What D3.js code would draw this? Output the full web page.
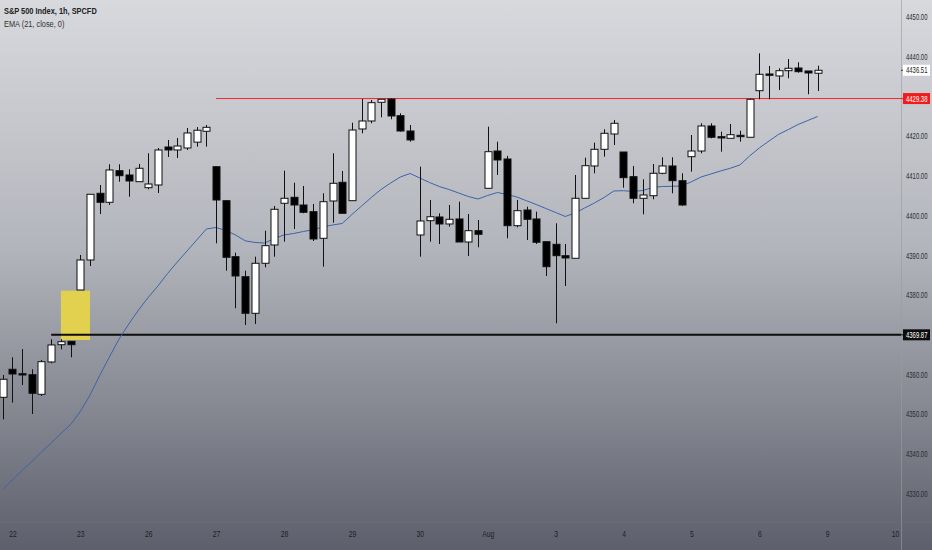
<!DOCTYPE html>
<html><head><meta charset="utf-8">
<script src="https://cdn.jsdelivr.net/npm/d3@7"></script>
<style>
html,body{margin:0;padding:0;background:#c9cbd1;}
svg{display:block;}
text{font-family:"Liberation Sans",Arial,sans-serif;}
</style></head>
<body>
<svg id="chart" width="932" height="550"></svg>
<script>
// ---- data ----
const dayLabels = ["22","23","26","27","28","29","30","Aug","3","4","5","6","9","10"];
const dayStartIndex = [1,8,15,22,29,36,43,50,57,64,71,78,85,92];
const priceTicks = [4330,4340,4350,4360,4380,4390,4400,4410,4420,4440,4450];
const openV = [4354.13,4361.19,4360.08,4359.83,4354.89,4363.03,4367.38,4368.24,4381.16,4388.72,
 4405.52,4403.25,4411.21,4410.13,4408.44,4406.93,4407.61,4417.18,4416.43,4416.93,
 4418.40,4421.14,4412.22,4403.66,4389.55,4384.51,4375.29,4387.89,4392.50,4403.00,
 4404.51,4402.57,4400.89,4394.18,4403.58,4408.29,4403.66,4421.72,4423.73,4428.44,
 4429.27,4425.07,4421.21,4395.02,4398.62,4399.55,4397.79,4399.05,4393.25,4396.10,
 4406.78,4416.17,4414.16,4397.36,4401.31,4399.05,4393.33,4392.67,4389.80,4389.15,
 4404.26,4412.40,4416.60,4420.46,4415.92,4409.70,4404.26,4404.91,4410.56,4412.40,
 4408.69,4414.74,4416.17,4422.47,4419.78,4419.37,4420.13,4419.63,4431.36,4435.57,
 4435.07,4436.40,4437.08,4436.33,4435.75];
const highV = [4359.75,4364.21,4366.30,4361.19,4363.53,4368.74,4368.74,4368.24,4389.98,4405.27,
 4407.61,4412.82,4412.82,4411.56,4412.90,4415.60,4416.93,4418.95,4419.45,4421.97,
 4422.20,4422.72,4412.22,4403.66,4390.56,4386.02,4389.55,4396.10,4402.32,4411.21,
 4408.19,4407.36,4402.82,4405.52,4415.60,4411.14,4423.30,4429.27,4429.02,4429.20,
 4429.38,4425.67,4422.72,4412.22,4403.83,4400.48,4402.57,4403.40,4400.31,4398.79,
 4422.30,4418.52,4414.92,4403.83,4402.14,4400.89,4393.33,4397.96,4392.75,4410.13,
 4414.49,4418.27,4421.64,4423.98,4415.92,4412.40,4409.05,4412.90,4414.59,4414.59,
 4410.56,4420.20,4423.15,4423.15,4421.04,4422.98,4421.29,4429.38,4440.78,4437.59,
 4437.01,4439.35,4438.52,4436.33,4437.66];
const lowV = [4348.59,4352.77,4357.23,4349.93,4354.46,4362.70,4366.22,4364.21,4381.16,4387.21,
 4400.31,4402.57,4408.44,4404.66,4408.44,4406.53,4405.60,4414.66,4414.41,4416.43,
 4417.26,4417.26,4392.93,4386.02,4376.55,4372.35,4372.60,4386.88,4389.55,4393.33,
 4396.53,4400.48,4393.50,4387.03,4398.11,4400.48,4403.66,4420.63,4423.15,4424.66,
 4424.16,4421.04,4418.52,4389.55,4393.33,4392.75,4397.11,4393.25,4389.73,4391.92,
 4406.78,4410.13,4394.18,4396.96,4393.76,4392.75,4384.69,4372.77,4382.17,4389.15,
 4404.26,4410.56,4414.74,4417.69,4406.93,4403.00,4400.23,4404.01,4410.31,4405.52,
 4402.32,4410.96,4415.60,4419.37,4416.00,4419.37,4418.52,4419.63,4429.20,4429.20,
 4431.54,4434.49,4435.90,4430.46,4431.29];
const closeV = [4358.67,4360.00,4359.75,4355.14,4363.10,4367.31,4368.14,4367.38,4388.72,4405.27,
 4403.25,4411.39,4409.95,4408.62,4411.82,4407.86,4416.43,4416.43,4417.43,4420.71,
 4421.40,4422.14,4403.83,4389.40,4384.69,4375.29,4387.89,4392.32,4401.49,4404.26,
 4402.57,4400.73,4394.01,4403.40,4408.04,4400.48,4421.46,4423.73,4428.34,4429.20,
 4424.99,4421.21,4418.95,4398.54,4399.62,4397.79,4398.97,4393.25,4396.10,4395.19,
 4416.00,4413.91,4397.36,4401.14,4398.97,4393.18,4387.03,4389.80,4389.22,4404.26,
 4412.47,4416.60,4420.63,4423.15,4409.45,4404.26,4405.09,4410.56,4412.40,4408.69,
 4402.57,4416.17,4422.47,4419.63,4419.45,4420.28,4419.78,4429.20,4435.49,4435.24,
 4436.40,4437.01,4436.15,4435.82,4436.51];
const emaV = [4330.91,4333.30,4335.70,4337.96,4340.36,4342.62,4345.02,4347.28,4350.56,4354.71,
 4359.63,4364.29,4368.82,4372.60,4376.12,4379.27,4382.17,4385.32,4388.21,4390.99,
 4393.76,4396.53,4396.90,4396.15,4395.02,4393.55,4393.13,4393.00,4394.13,4395.02,
 4395.39,4395.90,4396.33,4397.03,4397.53,4397.91,4400.18,4402.32,4404.46,4406.48,
 4408.11,4409.63,4410.51,4409.37,4408.24,4407.23,4406.48,4405.60,4404.71,4404.08,
 4404.97,4405.72,4405.22,4404.59,4403.63,4402.70,4401.69,4400.68,4399.68,4400.56,
 4401.82,4403.08,4404.46,4406.10,4406.17,4405.97,4406.23,4406.98,4407.23,4407.28,
 4407.36,4408.42,4409.63,4410.38,4411.14,4411.82,4412.65,4414.92,4416.93,4418.69,
 4420.38,4421.59,4422.85,4423.86,4424.86];
const redLevel = 4429.38;
const blackLevel = 4369.87;
const lastPrice = 4436.51;
const zoneTop = 4380.99, zoneBottom = 4368.57, zoneFrom = 6, zoneTo = 9;
const redFrom = 22, blackFrom = 5;
const title1 = "S&P 500 Index, 1h, SPCFD";
const title2 = "EMA (21, close, 0)";

// ---- layout ----
const W = 932, H = 550, plotR = 901, plotB = 522;
const svg = d3.select("#chart");
const defs = svg.append("defs");
const grad = defs.append("linearGradient").attr("id","bg").attr("x1",0).attr("y1",0).attr("x2",0).attr("y2",1);
grad.append("stop").attr("offset","0%").attr("stop-color","#d7d9dd");
grad.append("stop").attr("offset","45%").attr("stop-color","#b3b5bc");
grad.append("stop").attr("offset","100%").attr("stop-color","#5d5f6c");
svg.append("rect").attr("width",W).attr("height",H).attr("fill","url(#bg)");
defs.append("clipPath").attr("id","plot").append("rect").attr("x",0).attr("y",0).attr("width",plotR).attr("height",plotB);

const x = d3.scaleLinear().domain([0,84]).range([2.7,817.5]);
const y = d3.scaleLinear().domain([4330,4450]).range([493.1,16.7]);
const bw = 7;
const SX = 0.66; // horizontal condensing of axis text

svg.append("line").attr("x1",plotR+0.5).attr("x2",plotR+0.5).attr("y1",0).attr("y2",H).attr("stroke","#9a9ca4").attr("stroke-width",1).attr("opacity",0.6);

const g = svg.append("g").attr("clip-path","url(#plot)");

// yellow zone
g.append("rect").attr("x",x(zoneFrom)).attr("width",x(zoneTo)-x(zoneFrom))
 .attr("y",y(zoneTop)).attr("height",y(zoneBottom)-y(zoneTop)).attr("fill","#e2d04f");

// horizontal levels
g.append("line").attr("x1",x(redFrom)).attr("x2",plotR).attr("y1",y(redLevel)).attr("y2",y(redLevel))
 .attr("stroke","#f0262b").attr("stroke-width",1);
g.append("line").attr("x1",x(blackFrom)).attr("x2",plotR).attr("y1",y(blackLevel)).attr("y2",y(blackLevel))
 .attr("stroke","#0d0d0d").attr("stroke-width",2);

// EMA
const line = d3.line().x((d,i)=>x(i)).y(d=>y(d));
g.append("path").datum(emaV).attr("d",line).attr("fill","none").attr("stroke","#3f63a8").attr("stroke-width",1);

// candles
const idx = d3.range(openV.length);
const c = g.selectAll("g.c").data(idx).join("g").attr("class","c");
c.append("line").attr("x1",i=>Math.round(x(i))+0.5).attr("x2",i=>Math.round(x(i))+0.5)
 .attr("y1",i=>y(highV[i])).attr("y2",i=>y(lowV[i])).attr("stroke","#111").attr("stroke-width",1);
c.append("rect").attr("x",i=>Math.round(x(i))-bw/2+0.5)
 .attr("y",i=>y(Math.max(openV[i],closeV[i])))
 .attr("width",bw)
 .attr("height",i=>Math.max(1,Math.abs(y(openV[i])-y(closeV[i]))))
 .attr("fill",i=>closeV[i]>=openV[i]?"#ffffff":"#000000")
 .attr("stroke","#111").attr("stroke-width",1);

// titles
svg.append("g").attr("transform","translate(4,14) scale(0.78,1)")
 .append("text").attr("font-size",9.5).attr("font-weight","bold").attr("fill","#222").text(title1);
svg.append("g").attr("transform","translate(4,27) scale(0.78,1)")
 .append("text").attr("font-size",9.5).attr("fill","#333").text(title2);

// price axis
const yAxis = d3.axisRight(y).tickValues(priceTicks).tickSize(0).tickPadding(0).tickFormat(d=>d.toFixed(2));
const ya = svg.append("g").attr("transform",`translate(${plotR+5},0)`).call(yAxis);
ya.select(".domain").remove();
ya.selectAll("text").attr("font-size",9).attr("fill","#2a2a2e").attr("font-family","Liberation Sans, Arial, sans-serif")
 .attr("x",0).attr("dy","0.35em").attr("transform",`scale(${SX},1)`);

// price labels
function tag(p, bg, fg, wdt){
  const yy = y(p);
  svg.append("line").attr("x1",plotR).attr("x2",plotR+3).attr("y1",yy).attr("y2",yy).attr("stroke",bg==="#ffffff"?"#333":bg);
  svg.append("rect").attr("x",plotR+2).attr("y",yy-5.5).attr("width",wdt).attr("height",11).attr("fill",bg);
  svg.append("g").attr("transform",`translate(${plotR+5},${yy}) scale(${SX},1)`)
   .append("text").attr("dy","0.35em").attr("font-size",9).attr("fill",fg).text(p.toFixed(2));
}
tag(lastPrice,"#ffffff","#222",27);
tag(redLevel,"#f21b1b","#ffffff",27);
tag(blackLevel,"#0c0c0c","#ffffff",27);

// time axis
svg.append("line").attr("x1",0).attr("x2",W).attr("y1",plotB+0.5).attr("y2",plotB+0.5).attr("stroke","#6c6e7a").attr("opacity",0.7);
const xAxis = d3.axisBottom(x).tickValues(dayStartIndex).tickSize(0).tickPadding(0)
 .tickFormat((d,i)=>dayLabels[i]);
const xa = svg.append("g").attr("transform",`translate(0,${plotB+12})`).call(xAxis);
xa.select(".domain").remove();
xa.selectAll(".tick text").attr("font-size",9).attr("fill","#1e1f24").attr("font-family","Liberation Sans, Arial, sans-serif")
 .attr("y",0).attr("dy","0.35em").attr("transform","scale(0.75,1)");
</script>
</body></html>
